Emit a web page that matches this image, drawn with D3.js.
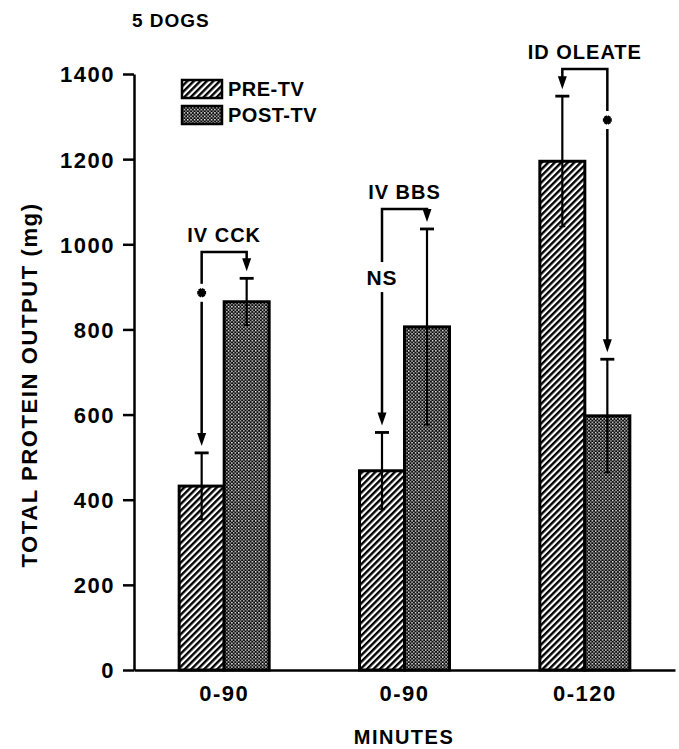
<!DOCTYPE html>
<html>
<head>
    <meta charset="utf-8">
    <title>Total protein output</title>
    <style>
        body {
            margin: 0;
            background: #ffffff;
        }

        svg text {
            font-family: "Liberation Sans", Arial, Helvetica, sans-serif;
            font-weight: bold;
            fill: #000;
        }
    </style>
</head>
<body>
    <div id="chart"></div>

    <script src="https://d3js.org/d3.v7.min.js"></script>
    <script>
        // 數據
        const groups = ["0-90", "0-90", "0-120"];
        const series = ["PRE-TV", "POST-TV"];
        const preValues = [432, 468, 1195];
        const preErrors = [78, 90, 153];
        const postValues = [865, 806, 597];
        const postErrors = [55, 230, 133];
        const yTicks = [0, 200, 400, 600, 800, 1000, 1200, 1400];

        // 註解：處理名稱、括號高度、顯著性標記
        const treatments = ["IV CCK", "IV BBS", "ID OLEATE"];
        const bracketLevels = [982, 1083, 1412];
        const significance = ["*", "NS", "*"];
        const markSide = ["pre", "pre", "post"];
        const markLevels = [886, 923, 1292];

        const width = 679;
        const height = 749;

        const svg = d3.select('#chart')
            .append('svg')
            .attr('width', width)
            .attr('height', height);

        // 圖樣
        const defs = svg.append('defs');

        const hatch = defs.append('pattern')
            .attr('id', 'hatch')
            .attr('patternUnits', 'userSpaceOnUse')
            .attr('width', 4.6)
            .attr('height', 10)
            .attr('patternTransform', 'rotate(45)');
        hatch.append('rect')
            .attr('width', 4.6).attr('height', 10)
            .attr('fill', '#fff');
        hatch.append('rect')
            .attr('width', 2.4).attr('height', 10)
            .attr('fill', '#000');

        const dots = defs.append('pattern')
            .attr('id', 'dots')
            .attr('patternUnits', 'userSpaceOnUse')
            .attr('width', 3.4)
            .attr('height', 3.4);
        dots.append('rect')
            .attr('width', 3.4).attr('height', 3.4)
            .attr('fill', '#0a0a0a');
        dots.append('rect')
            .attr('width', 1.4).attr('height', 1.4)
            .attr('fill', '#fff');
        dots.append('rect')
            .attr('x', 1.7).attr('y', 1.7)
            .attr('width', 1.4).attr('height', 1.4)
            .attr('fill', '#bdbdbd');

        const fills = { "PRE-TV": 'url(#hatch)', "POST-TV": 'url(#dots)' };

        // 比例尺
        const x = d3.scaleBand()
            .domain(groups.map((g, i) => i))
            .range([134, 675]);

        const x1 = d3.scaleBand()
            .domain(series)
            .range([x.bandwidth() / 2 - 45, x.bandwidth() / 2 + 45]);

        const y = d3.scaleLinear()
            .domain([0, 1400])
            .range([670, 74]);

        const rows = groups.map((g, i) => [
            { group: i, key: "PRE-TV", value: preValues[i], err: preErrors[i] },
            { group: i, key: "POST-TV", value: postValues[i], err: postErrors[i] }
        ]).flat();

        // 長條
        svg.append('g')
            .selectAll('rect')
            .data(rows)
            .enter()
            .append('rect')
            .attr('x', d => x(d.group) + x1(d.key))
            .attr('y', d => y(d.value))
            .attr('width', x1.bandwidth())
            .attr('height', d => y(0) - y(d.value))
            .attr('fill', d => fills[d.key])
            .attr('stroke', '#000')
            .attr('stroke-width', 3);

        // 誤差線
        const cx = d => x(d.group) + x1(d.key) + x1.bandwidth() / 2;
        const err = svg.append('g')
            .attr('stroke', '#000')
            .attr('stroke-width', 2.2);

        err.selectAll('line.v')
            .data(rows)
            .enter()
            .append('line')
            .attr('x1', cx).attr('x2', cx)
            .attr('y1', d => y(d.value + d.err))
            .attr('y2', d => y(d.value - d.err));

        err.selectAll('line.cap')
            .data(rows)
            .enter()
            .append('line')
            .attr('x1', d => cx(d) - 7).attr('x2', d => cx(d) + 7)
            .attr('y1', d => y(d.value + d.err))
            .attr('y2', d => y(d.value + d.err))
            .attr('stroke-width', 2.8);

        err.selectAll('line.foot')
            .data(rows)
            .enter()
            .append('line')
            .attr('x1', d => cx(d) - 3).attr('x2', d => cx(d) + 3)
            .attr('y1', d => y(d.value - d.err))
            .attr('y2', d => y(d.value - d.err))
            .attr('stroke-width', 1.6);

        // 座標軸
        const yAxis = svg.append('g')
            .attr('transform', 'translate(134,0)')
            .call(d3.axisLeft(y).tickValues(yTicks).tickFormat(d3.format('d'))
                .tickSize(11).tickSizeOuter(0).tickPadding(8));

        const xAxis = svg.append('g')
            .attr('transform', `translate(0,${y(0)})`)
            .call(d3.axisBottom(x).tickSize(0).tickSizeOuter(0).tickPadding(15)
                .tickFormat(i => groups[i]));

        [yAxis, xAxis].forEach(a => {
            a.selectAll('path, line')
                .attr('stroke', '#000')
                .attr('stroke-width', 2.5);
            a.selectAll('text')
                .style('font-size', '22px')
                .style('letter-spacing', '1.5px');
        });
        yAxis.selectAll('text').attr('dy', '0.36em');
        xAxis.selectAll('text').attr('dy', '0.72em');

        // 括號與箭頭
        const anno = svg.append('g');
        const gap = 7;

        function arrowHead(px, tip) {
            anno.append('path')
                .attr('d', `M${px - 4.5},${tip - 13}L${px + 4.5},${tip - 13}L${px},${tip}Z`)
                .attr('fill', '#000');
        }

        groups.forEach((g, i) => {
            const pre = rows[i * 2];
            const post = rows[i * 2 + 1];
            const xl = cx(pre);
            const xr = cx(post);
            const top = y(bracketLevels[i]);
            const tipL = y(pre.value + pre.err) - gap;
            const tipR = y(post.value + post.err) - gap;

            anno.append('path')
                .attr('d', `M${xl},${tipL - 9}V${top}H${xr}V${tipR - 9}`)
                .attr('fill', 'none')
                .attr('stroke', '#000')
                .attr('stroke-width', 2.5);
            arrowHead(xl, tipL);
            arrowHead(xr, tipR);

            // 處理名稱
            anno.append('text')
                .attr('x', (xl + xr) / 2)
                .attr('y', top - 10)
                .attr('text-anchor', 'middle')
                .style('font-size', '20px')
                .style('letter-spacing', '1px')
                .text(treatments[i]);

            // 顯著性標記（遮住線段）
            const mx = markSide[i] === 'pre' ? xl : xr;
            const my = y(markLevels[i]);
            if (significance[i] === '*') {
                anno.append('rect')
                    .attr('x', mx - 5).attr('y', my - 9)
                    .attr('width', 10).attr('height', 18)
                    .attr('fill', '#fff');
                anno.append('path')
                    .attr('transform', `translate(${mx},${my}) rotate(90)`)
                    .attr('d', d3.symbol(d3.symbolAsterisk, 55)())
                    .attr('fill', 'none')
                    .attr('stroke', '#000')
                    .attr('stroke-width', 3.4);
            } else {
                anno.append('rect')
                    .attr('x', mx - 14).attr('y', my - 15)
                    .attr('width', 28).attr('height', 30)
                    .attr('fill', '#fff');
                anno.append('text')
                    .attr('x', mx)
                    .attr('y', my)
                    .attr('dy', '0.36em')
                    .attr('text-anchor', 'middle')
                    .style('font-size', '21px')
                    .style('letter-spacing', '1px')
                    .text(significance[i]);
            }
        });

        // 圖例
        const legend = svg.append('g');
        series.forEach((s, i) => {
            legend.append('rect')
                .attr('x', 182)
                .attr('y', 80 + i * 26)
                .attr('width', 40)
                .attr('height', 18)
                .attr('fill', fills[s])
                .attr('stroke', '#000')
                .attr('stroke-width', 2.5);
            legend.append('text')
                .attr('x', 228)
                .attr('y', 89 + i * 26)
                .attr('dy', '0.36em')
                .style('font-size', '20px')
                .style('letter-spacing', '0.5px')
                .text(s);
        });

        // 標題與軸標籤
        svg.append('text')
            .attr('x', 132)
            .attr('y', 27)
            .style('font-size', '19px')
            .style('letter-spacing', '1px')
            .text('5 DOGS');

        svg.append('text')
            .attr('transform', 'translate(37,385) rotate(-90)')
            .attr('text-anchor', 'middle')
            .style('font-size', '22px')
            .style('letter-spacing', '1.6px')
            .text('TOTAL PROTEIN OUTPUT (mg)');

        svg.append('text')
            .attr('x', 404)
            .attr('y', 744)
            .attr('text-anchor', 'middle')
            .style('font-size', '20px')
            .style('letter-spacing', '1.5px')
            .text('MINUTES');
    </script>
</body>
</html>
